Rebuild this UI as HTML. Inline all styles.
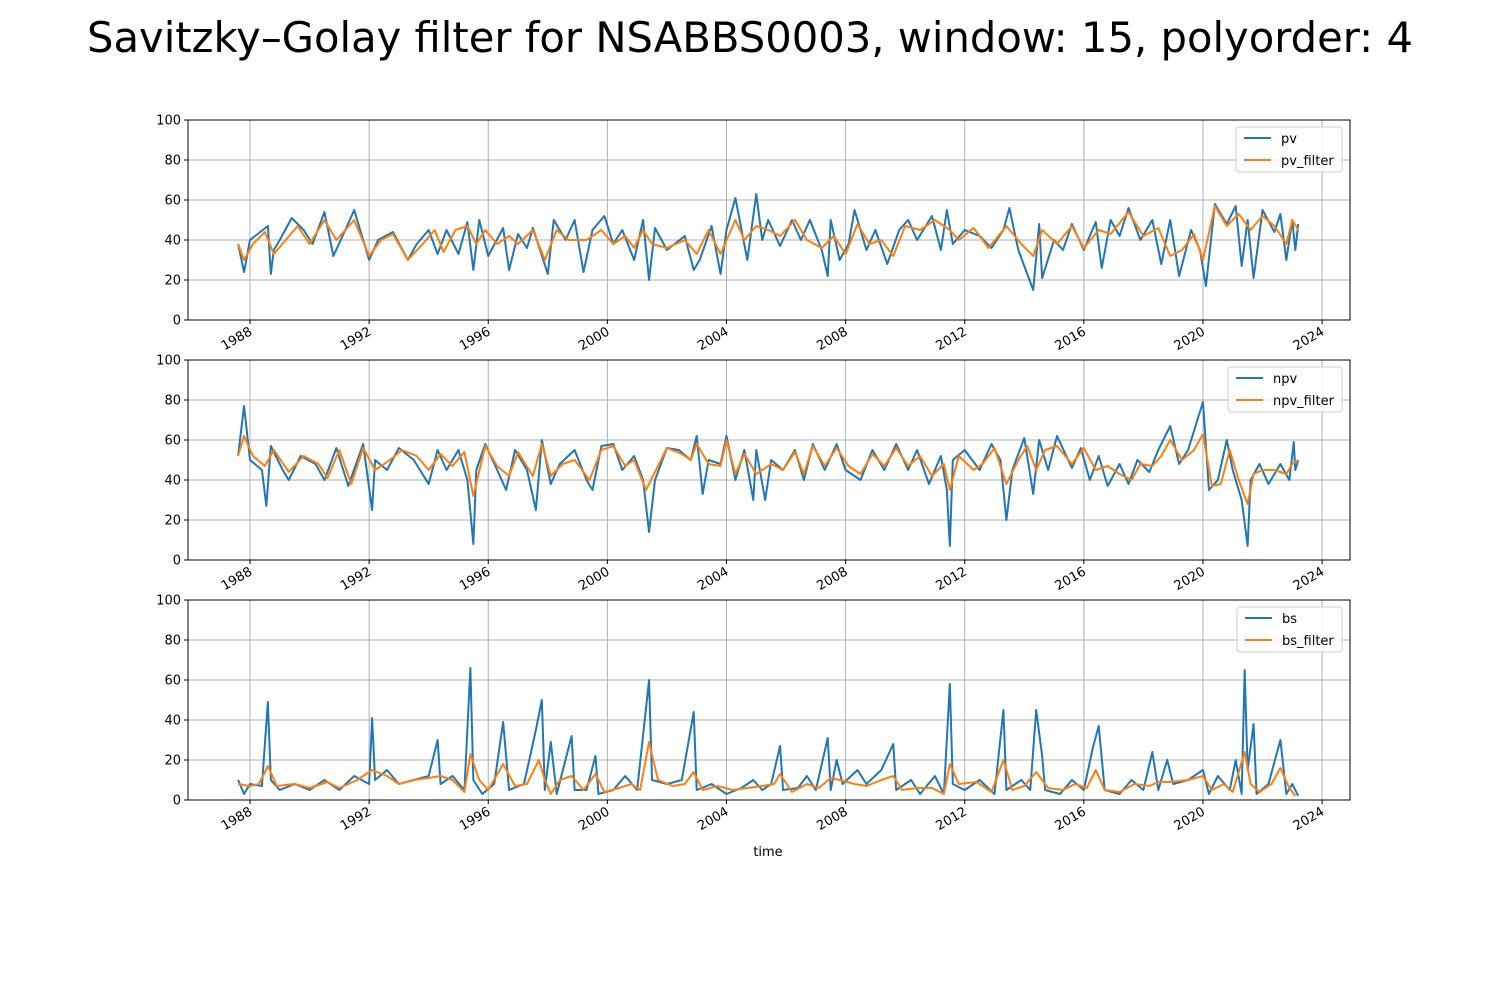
<!DOCTYPE html>
<html><head><meta charset="utf-8"><style>
body{margin:0;background:#fff;}
svg{display:block;font-family:"DejaVu Sans","Liberation Sans",sans-serif;}
</style></head><body>
<svg id="chart" width="1500" height="1000" xmlns="http://www.w3.org/2000/svg">
<rect width="1500" height="1000" fill="#fff"/>
<text x="750" y="52" font-size="41.7" text-anchor="middle" fill="#000">Savitzky–Golay filter for NSABBS0003, window: 15, polyorder: 4</text>
<text x="768" y="856" font-size="13" text-anchor="middle">time</text>
</svg>
<script>
const yearTicks=[1988,1992,1996,2000,2004,2008,2012,2016,2020,2024];
const yTicks=[0,20,40,60,80,100];
const pvT=[1987.6,1987.8,1988,1988.6,1988.7,1988.8,1989,1989.4,1989.8,1990.1,1990.5,1990.8,1991.2,1991.5,1992,1992.3,1992.8,1993.3,1993.6,1994,1994.3,1994.6,1995,1995.3,1995.5,1995.7,1996,1996.5,1996.7,1997,1997.3,1997.5,1998,1998.2,1998.6,1998.9,1999.2,1999.5,1999.9,2000.2,2000.5,2000.9,2001.2,2001.4,2001.6,2002,2002.6,2002.9,2003.1,2003.5,2003.8,2004,2004.3,2004.7,2005,2005.2,2005.4,2005.8,2006.2,2006.5,2006.8,2007.2,2007.4,2007.5,2007.8,2008.1,2008.3,2008.7,2009,2009.4,2009.8,2010.1,2010.4,2010.9,2011.2,2011.4,2011.6,2012,2012.5,2012.9,2013.3,2013.5,2013.8,2014.3,2014.5,2014.6,2015,2015.3,2015.6,2016,2016.4,2016.6,2016.9,2017.2,2017.5,2017.9,2018.3,2018.6,2018.9,2019.2,2019.6,2019.9,2020.1,2020.4,2020.8,2021.1,2021.3,2021.5,2021.7,2022,2022.4,2022.6,2022.8,2023,2023.1,2023.2];
const pvV=[38,24,40,47,23,35,40,51,45,38,54,32,45,55,30,40,44,30,38,45,33,45,33,49,25,50,32,46,25,43,36,46,23,50,40,50,24,45,52,38,45,30,50,20,46,35,42,25,30,47,23,45,61,30,63,40,50,37,50,40,50,35,22,50,30,38,55,35,45,28,45,50,40,52,35,55,38,45,42,36,45,56,35,15,48,21,40,35,48,35,49,26,50,42,56,40,50,28,50,22,45,35,17,58,48,57,27,50,21,55,44,53,30,50,35,48];
const pvFT=[1987.6,1987.8,1988.1,1988.5,1988.8,1989.2,1989.6,1990,1990.5,1990.9,1991.5,1992,1992.4,1992.8,1993.3,1993.8,1994.2,1994.5,1994.9,1995.3,1995.6,1995.9,1996.3,1996.7,1997,1997.5,1997.9,1998.3,1998.7,1999.3,1999.8,2000.2,2000.6,2000.9,2001.2,2001.5,2002,2002.6,2003,2003.4,2003.8,2004.3,2004.6,2005,2005.4,2005.8,2006.3,2006.7,2007.2,2007.6,2008,2008.4,2008.8,2009.2,2009.6,2010,2010.5,2011,2011.5,2011.8,2012.3,2012.8,2013.4,2013.9,2014.3,2014.6,2015.1,2015.6,2016,2016.5,2016.9,2017.5,2018,2018.5,2018.9,2019.3,2019.7,2020,2020.4,2020.8,2021.2,2021.6,2022,2022.4,2022.8,2023,2023.2];
const pvFV=[38,30,38,44,33,40,47,38,50,40,50,32,40,43,30,38,45,34,45,47,38,45,38,42,38,45,30,45,40,40,45,38,42,36,45,38,36,40,33,45,33,50,40,47,45,42,50,40,36,42,33,48,38,40,32,47,45,50,45,40,46,36,47,38,32,45,38,47,36,45,43,54,42,46,32,35,43,30,57,47,53,45,52,47,38,50,45];
const npvT=[1987.6,1987.8,1988,1988.4,1988.55,1988.7,1989.1,1989.3,1989.7,1990.2,1990.5,1990.9,1991.3,1991.8,1992.1,1992.2,1992.6,1993,1993.5,1994,1994.3,1994.6,1995,1995.3,1995.5,1995.6,1995.9,1996.3,1996.6,1996.9,1997.3,1997.6,1997.8,1998.1,1998.4,1998.9,1999.3,1999.5,1999.8,2000.2,2000.5,2000.9,2001.2,2001.4,2001.6,2002,2002.4,2002.8,2003,2003.2,2003.4,2003.8,2004,2004.3,2004.6,2004.9,2005,2005.3,2005.5,2005.9,2006.3,2006.6,2006.9,2007.3,2007.7,2008,2008.5,2008.9,2009.3,2009.7,2010.1,2010.4,2010.8,2011.2,2011.4,2011.5,2011.6,2012,2012.5,2012.9,2013.2,2013.4,2013.6,2014,2014.3,2014.5,2014.8,2015.1,2015.6,2015.9,2016.2,2016.5,2016.8,2017.2,2017.5,2017.8,2018.2,2018.5,2018.9,2019.2,2019.5,2020,2020.2,2020.5,2020.8,2021,2021.3,2021.5,2021.6,2021.9,2022.2,2022.6,2022.9,2023.05,2023.1,2023.2];
const npvV=[52,77,50,45,27,57,45,40,52,48,40,56,37,58,25,50,45,56,50,38,55,45,55,40,8,45,58,45,35,55,45,25,60,38,48,55,40,35,57,58,45,52,40,14,40,56,55,50,62,33,50,48,62,40,55,30,55,30,50,45,55,40,58,45,58,45,40,55,45,58,45,55,38,52,35,7,50,55,45,58,50,20,45,61,33,60,45,62,46,56,40,52,37,48,38,50,44,55,67,48,55,79,35,40,60,45,30,7,40,48,38,48,40,59,45,50];
const npvFT=[1987.6,1987.8,1988.1,1988.5,1988.8,1989.3,1989.8,1990.3,1990.6,1991,1991.4,1991.8,1992.2,1992.7,1993.1,1993.6,1994,1994.4,1994.8,1995.2,1995.5,1995.9,1996.3,1996.7,1997,1997.5,1997.8,1998.1,1998.5,1998.9,1999.4,1999.8,2000.2,2000.6,2000.9,2001.3,2001.7,2002,2002.5,2002.8,2003,2003.4,2003.8,2004,2004.3,2004.6,2005,2005.5,2005.9,2006.3,2006.6,2006.9,2007.3,2007.7,2008.1,2008.5,2008.9,2009.3,2009.7,2010.1,2010.5,2010.9,2011.3,2011.5,2011.8,2012.3,2012.6,2013,2013.4,2013.8,2014.1,2014.4,2014.7,2015.1,2015.6,2016,2016.4,2016.8,2017.2,2017.6,2017.9,2018.3,2018.6,2018.9,2019.3,2019.7,2020,2020.3,2020.6,2020.9,2021.2,2021.5,2021.7,2022,2022.4,2022.8,2023,2023.2];
const npvFV=[52,62,52,47,55,44,52,48,41,55,38,56,45,50,55,52,45,53,47,54,32,57,47,42,54,42,58,42,48,50,40,55,57,47,50,35,47,56,53,50,58,48,47,60,43,53,43,48,45,54,43,57,47,56,47,43,53,47,56,47,52,42,48,35,52,45,48,56,38,50,57,45,55,57,48,56,45,47,43,40,48,47,52,60,50,55,63,37,38,55,40,28,43,45,45,43,48,50];
const bsT=[1987.6,1987.8,1988,1988.4,1988.6,1988.7,1989,1989.5,1990,1990.5,1991,1991.5,1992,1992.1,1992.2,1992.6,1993,1993.5,1994,1994.3,1994.4,1994.8,1995.2,1995.4,1995.5,1995.8,1996.2,1996.5,1996.7,1997.2,1997.6,1997.8,1997.9,1998.1,1998.3,1998.8,1998.9,1999.3,1999.6,1999.7,2000.2,2000.6,2001,2001.4,2001.5,2002,2002.5,2002.9,2003,2003.5,2004,2004.5,2004.9,2005.2,2005.5,2005.8,2005.9,2006.4,2006.7,2007,2007.4,2007.5,2007.7,2007.9,2008.4,2008.7,2009.2,2009.6,2009.7,2010.2,2010.5,2011,2011.3,2011.5,2011.6,2012,2012.5,2013,2013.3,2013.4,2013.9,2014.2,2014.4,2014.6,2014.7,2015.2,2015.6,2016,2016.3,2016.5,2016.7,2017.2,2017.6,2018,2018.3,2018.5,2018.8,2019,2019.5,2020,2020.2,2020.5,2020.9,2021.1,2021.3,2021.4,2021.5,2021.7,2021.8,2022.2,2022.6,2022.8,2023,2023.2];
const bsV=[10,3,8,7,49,10,5,8,5,10,5,12,8,41,10,15,8,10,12,30,8,12,5,66,10,3,8,39,5,8,35,50,5,29,3,32,5,5,22,3,5,12,5,60,10,8,10,44,5,8,3,6,10,5,8,27,5,6,12,5,31,5,20,8,15,8,15,28,5,10,3,12,3,58,8,5,10,3,45,5,10,5,45,22,5,3,10,5,26,37,5,3,10,5,24,5,20,8,10,15,3,12,5,20,3,65,15,38,3,8,30,3,8,2];
const bsFT=[1987.6,1988,1988.3,1988.6,1988.9,1989.5,1990,1990.6,1991,1991.6,1992.1,1992.6,1993,1993.5,1994,1994.4,1994.8,1995.2,1995.4,1995.7,1996,1996.5,1996.9,1997.3,1997.7,1997.9,1998.1,1998.4,1998.8,1999.2,1999.6,1999.9,2000.4,2000.8,2001.1,2001.4,2001.7,2002.2,2002.6,2002.9,2003.2,2003.7,2004.2,2004.7,2005.2,2005.6,2005.8,2006.2,2006.7,2007.1,2007.5,2007.8,2008.3,2008.7,2009.2,2009.6,2009.9,2010.4,2010.9,2011.3,2011.5,2011.8,2012.4,2012.9,2013.3,2013.6,2014,2014.4,2014.8,2015.3,2015.7,2016.1,2016.4,2016.7,2017.2,2017.7,2018.2,2018.5,2018.9,2019.5,2020,2020.3,2020.7,2021,2021.4,2021.6,2021.9,2022.3,2022.6,2022.9,2023.1];
const bsFV=[8,7,8,17,7,8,6,9,6,10,15,12,8,10,11,12,10,4,23,10,5,18,7,8,20,10,3,10,12,5,13,4,6,8,5,29,10,7,8,14,5,7,5,6,7,8,13,4,8,6,11,10,8,7,10,12,5,6,6,3,18,8,9,4,20,5,7,14,6,5,8,6,15,5,4,8,7,9,9,10,12,5,8,4,24,8,4,8,16,6,2];

const NS='http://www.w3.org/2000/svg';
const svg=document.getElementById('chart');
const X0=250,YEARPX=29.78,AL=188,AR=1350;
function xs(t){return X0+(t-1988)*YEARPX;}
function mk(tag,attrs,parent){const e=document.createElementNS(NS,tag);for(const k in attrs)e.setAttribute(k,attrs[k]);(parent||svg).appendChild(e);return e;}
const panels=[
 {top:120,name:'pv',t:pvT,v:pvV,ft:pvFT,fv:pvFV,lx:1236,lw:106},
 {top:360,name:'npv',t:npvT,v:npvV,ft:npvFT,fv:npvFV,lx:1228,lw:114},
 {top:600,name:'bs',t:bsT,v:bsV,ft:bsFT,fv:bsFV,lx:1237,lw:105}
];
panels.forEach(p=>{
 const H=200,ys=v=>p.top+H-v/100*H;
 const g=mk('g',{});
 
 
 yearTicks.forEach(yr=>{
  const x=xs(yr);
  const gl=mk('line',{x1:x,x2:x,y1:p.top,y2:p.top+H,stroke:'#b0b0b0','stroke-width':1},g);
  
  
  mk('line',{x1:x,x2:x,y1:p.top+H,y2:p.top+H+4,stroke:'#000'},g);
  const tx=mk('text',{x:x+3,y:p.top+H+14,'font-size':13,'text-anchor':'end',transform:`rotate(-30 ${x+3} ${p.top+H+14})`},g);
  tx.textContent=yr;
  
  
 });
 yTicks.forEach(v=>{
  const y=ys(v);
  const gl=mk('line',{x1:AL,x2:AR,y1:y,y2:y,stroke:'#b0b0b0','stroke-width':1},g);
  
  
  mk('line',{x1:AL-4,x2:AL,y1:y,y2:y,stroke:'#000'},g);
  const tx=mk('text',{x:AL-7,y:y+4.5,'font-size':13,'text-anchor':'end'},g);
  tx.textContent=v;
  
  
 });
 const raw=mk('polyline',{points:p.t.map((t,i)=>xs(t)+','+ys(p.v[i])).join(' '),fill:'none',stroke:'#1f77b4','stroke-width':2,'stroke-linejoin':'round'},g);
 
 
 const fl=mk('polyline',{points:p.ft.map((t,i)=>xs(t)+','+ys(p.fv[i])).join(' '),fill:'none',stroke:'#ff7f0e','stroke-width':2,'stroke-linejoin':'round'},g);
 
 
 mk('rect',{x:AL,y:p.top,width:AR-AL,height:H,fill:'none',stroke:'#000','stroke-width':1},g);
 const lg=mk('g',{},g);
 
 
 mk('rect',{x:p.lx,y:p.top+7,width:p.lw,height:45,rx:3,fill:'#fff','fill-opacity':0.8,stroke:'#ccc'},lg);
 [[p.name,'#1f77b4'],[p.name+'_filter','#ff7f0e']].forEach((e,i)=>{
  const yy=p.top+18+i*22;
  mk('line',{x1:p.lx+8,x2:p.lx+35,y1:yy,y2:yy,stroke:e[1],'stroke-width':2},lg);
  const tx=mk('text',{x:p.lx+45,y:yy+5,'font-size':13},lg);
  tx.textContent=e[0];
  
  
 });
});
</script>
</body></html>
